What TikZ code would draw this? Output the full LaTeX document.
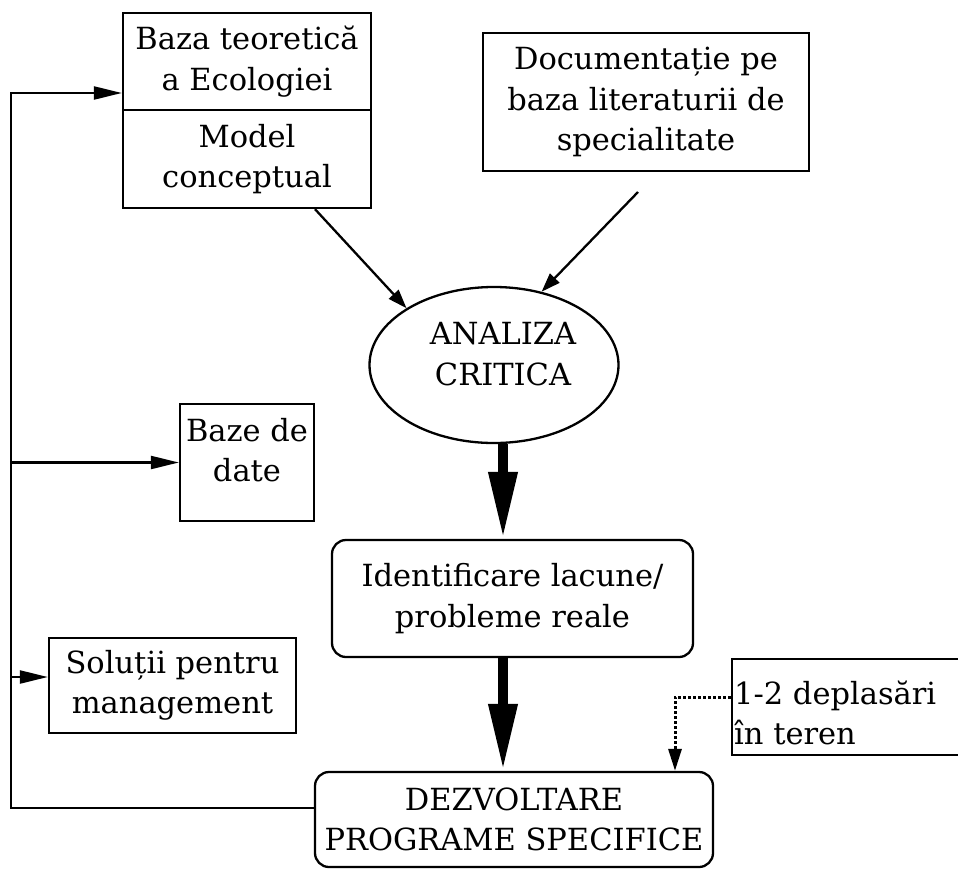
\documentclass[tikz,border=0pt]{standalone}
\usepackage{fontspec}
\setmainfont{DejaVu Serif}
\usetikzlibrary{arrows.meta,shapes.geometric}
\newcommand\mydiagfont{\fontsize{30.5}{40.5}\selectfont}
\begin{document}
\begin{tikzpicture}[x=1pt,y=-1pt,
  box/.style={draw, line width=2.3pt, rectangle, inner sep=0pt, align=center, font=\mydiagfont},
  rbox/.style={box, rounded corners=14pt},
  txt/.style={inner sep=0pt, align=center, font=\mydiagfont},
  arr/.style={line width=2.3pt, -{Triangle[length=28pt,width=13pt]}},
  darr/.style={line width=2.3pt, -{Triangle[length=19pt,width=13pt]}},
  bigarr/.style={line width=10pt, -{Triangle[length=67pt,width=27pt]}},
  dotarr/.style={line width=3pt, dash pattern=on 3pt off 2pt, -{Triangle[length=22pt,width=13pt]}}]
\useasboundingbox (0,0) rectangle (958,870);
% boxes
\node[box, minimum width=248pt, minimum height=97pt] (top1) at (247,61.5) {Baza teoretică\\a Ecologiei};
\node[box, minimum width=248pt, minimum height=98pt] (top2) at (247,159) {Model\\conceptual};
\node[box, minimum width=326pt, minimum height=138pt] (doc) at (646,102) {Documentație pe\\baza literaturii de\\specialitate};
\node[draw, line width=2.3pt, ellipse, inner sep=0pt, minimum width=249pt, minimum height=156pt] (ell) at (494,365) {};
\node[txt] (ellt) at (503,354) {ANALIZA\\CRITICA};
\node[box, minimum width=134pt, minimum height=117pt] (baze) at (247,462.5) {};
\node[txt] (bazet) at (247,450) {Baze de\\date};
\node[box, minimum width=247pt, minimum height=95pt] (sol) at (172.5,685.5) {Soluții pentru\\management};
\node[rbox, minimum width=361pt, minimum height=117pt] (iden) at (512.5,598.5) {Identificare lacune/\\probleme reale};
\node[rbox, minimum width=398pt, minimum height=95pt] (dez) at (514,819.5) {DEZVOLTARE\\PROGRAME SPECIFICE};
\node[box, minimum width=278pt, minimum height=96pt] (dep) at (871,707) {};
\node[txt, align=left, anchor=west] (dept) at (734,713) {1-2 deplasări\\în teren};
% coordinates
\coordinate (ltop) at (11,93);
\coordinate (lbot) at (11,808);
\coordinate (sarr) at (11,677);
\coordinate (docstart) at (638,192);
% connectors
\draw[arr] ([yshift=11.5pt]dez.west) -- (lbot) -- (ltop) -- (ltop -| top1.west);
\draw[arr] (lbot |- baze.west) -- (baze.west);
\draw[arr] (sarr) -- (sarr -| sol.west);
\draw[darr] ([xshift=68pt]top2.south) -- (ell.147);
\draw[darr] (docstart) -- (ell.57);
\draw[bigarr] ([xshift=9pt]ell.south) -- ([xshift=9pt]ell.south |- iden.north);
\draw[bigarr] ([xshift=-9.5pt]iden.south) -- ([xshift=-9.5pt]iden.south |- dez.north);
\draw[dotarr] ([yshift=10pt]dep.west) -| ([xshift=161pt]dez.north);
\end{tikzpicture}
\end{document}
